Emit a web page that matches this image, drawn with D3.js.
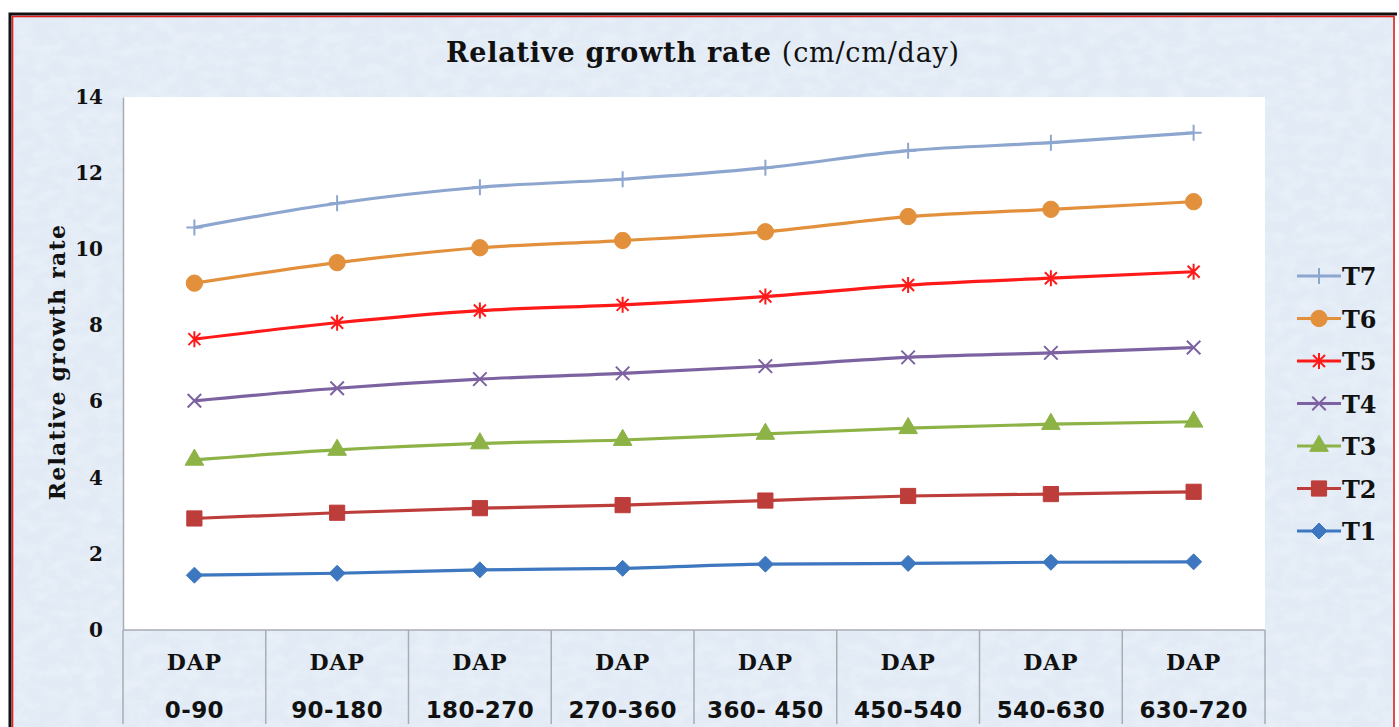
<!DOCTYPE html>
<html>
<head>
<meta charset="utf-8">
<script src="https://cdn.jsdelivr.net/npm/d3@7"></script>
<style>
    html, body { margin: 0; padding: 0; background: #ffffff; }
    #vis { width: 1399px; height: 727px; overflow: hidden; }
</style>
</head>
<body>
<div id="vis"></div>
<script>
// data
var periods = ['0-90', '90-180', '180-270', '270-360', '360- 450', '450-540', '540-630', '630-720'];
var seriesNames = ['T7', 'T6', 'T5', 'T4', 'T3', 'T2', 'T1'];
var t7 = [10.57, 11.21, 11.63, 11.84, 12.14, 12.59, 12.80, 13.06];
var t6 = [9.11, 9.65, 10.04, 10.23, 10.46, 10.86, 11.05, 11.25];
var t5 = [7.64, 8.07, 8.39, 8.54, 8.76, 9.06, 9.24, 9.41];
var t4 = [6.02, 6.35, 6.59, 6.74, 6.93, 7.16, 7.28, 7.42];
var t3 = [4.47, 4.73, 4.90, 4.99, 5.15, 5.30, 5.41, 5.47];
var t2 = [2.93, 3.08, 3.20, 3.28, 3.40, 3.52, 3.57, 3.63];
var t1 = [1.44, 1.49, 1.58, 1.62, 1.73, 1.75, 1.78, 1.79];
var yTicks = [0, 2, 4, 6, 8, 10, 12, 14];

class GrowthChart
{
    constructor(width, height)
    {
        // constants
        this.width = width;
        this.height = height;
        this.plot = { left: 123, top: 97, right: 1265, bottom: 630 };
        this.boxBottom = 724;
        this.serif = '"DejaVu Serif", "Liberation Serif", serif';
        this.sans = '"DejaVu Sans", Verdana, sans-serif';
        this.colors = {
            T7: '#8da6cf', T6: '#e2903b', T5: '#ff1a1a', T4: '#7d62a2',
            T3: '#8db246', T2: '#bd3d3a', T1: '#3d77c0'
        };
        this.values = { T7: t7, T6: t6, T5: t5, T4: t4, T3: t3, T2: t2, T1: t1 };

        this.svg = d3.select('#vis')
            .append('svg')
                .attr('width', this.width)
                .attr('height', this.height);

        this.xScale = d3.scaleBand()
            .domain(periods)
            .range([this.plot.left, this.plot.right])
            .padding(0);
        this.yScale = d3.scaleLinear()
            .domain([0, 14])
            .range([this.plot.bottom, this.plot.top]);
    }

    // custom marker shapes for d3.symbol
    strokeSymbol(kind, r)
    {
        return {
            draw: function(ctx) {
                if(kind == 'plus' || kind == 'star')
                {
                    ctx.moveTo(0, -r); ctx.lineTo(0, r);
                }
                if(kind == 'plus')
                {
                    ctx.moveTo(-r, 0); ctx.lineTo(r, 0);
                }
                if(kind == 'times' || kind == 'star')
                {
                    var k = r * 0.75;
                    ctx.moveTo(-k, -k); ctx.lineTo(k, k);
                    ctx.moveTo(-k, k); ctx.lineTo(k, -k);
                }
            }
        };
    }

    diamondSymbol(r)
    {
        return {
            draw: function(ctx) {
                ctx.moveTo(0, -r);
                ctx.lineTo(r, 0);
                ctx.lineTo(0, r);
                ctx.lineTo(-r, 0);
                ctx.closePath();
            }
        };
    }

    markerPath(name)
    {
        switch(name)
        {
            case 'T7': return d3.symbol().type(this.strokeSymbol('plus', 8))();
            case 'T6': return d3.symbol().type(d3.symbolCircle).size(210)();
            case 'T5': return d3.symbol().type(this.strokeSymbol('star', 8))();
            case 'T4': return d3.symbol().type(this.strokeSymbol('times', 9))();
            case 'T3': return d3.symbol().type(d3.symbolTriangle).size(150)();
            case 'T2': return d3.symbol().type(d3.symbolSquare).size(230)();
            default: return d3.symbol().type(this.diamondSymbol(8))();
        }
    }

    isStroked(name)
    {
        return name == 'T7' || name == 'T5' || name == 'T4';
    }

    drawFrame()
    {
        var defs = this.svg.append('defs');
        var f = defs.append('filter').attr('id', 'paper')
            .attr('x', 0).attr('y', 0).attr('width', '100%').attr('height', '100%');
        f.append('feTurbulence')
            .attr('type', 'fractalNoise')
            .attr('baseFrequency', '0.06 0.09')
            .attr('numOctaves', 4)
            .attr('seed', 7);
        f.append('feColorMatrix')
            .attr('type', 'matrix')
            .attr('values', '0 0 0 0 1  0 0 0 0 1  0 0 0 0 1  0 0 0 -1.4 0.95');

        this.svg.append('rect')
            .attr('x', 11).attr('y', 15)
            .attr('width', 1384).attr('height', 720)
            .attr('fill', '#e1eaf5');
        this.svg.append('rect')
            .attr('x', 11).attr('y', 15)
            .attr('width', 1384).attr('height', 720)
            .attr('filter', 'url(#paper)')
            .attr('opacity', 0.35);

        // outer border: black then red
        this.svg.append('path')
            .attr('d', 'M10,740 V14 H1397')
            .attr('fill', 'none')
            .attr('stroke', '#111')
            .attr('stroke-width', 3);
        this.svg.append('rect')
            .attr('x', 12.5).attr('y', 16.5)
            .attr('width', 1381.5).attr('height', 730)
            .attr('fill', 'none')
            .attr('stroke', '#e0201c')
            .attr('stroke-width', 1.6);

        // plot area
        this.svg.append('rect')
            .attr('x', this.plot.left).attr('y', this.plot.top)
            .attr('width', this.plot.right - this.plot.left)
            .attr('height', this.plot.bottom - this.plot.top)
            .attr('fill', '#ffffff');
    }

    drawAxes()
    {
        var that = this;
        var grey = '#a9adb3';

        // y axis
        var yAxis = d3.axisLeft(this.yScale)
            .tickValues(yTicks)
            .tickSize(0)
            .tickPadding(20);
        var gy = this.svg.append('g')
            .attr('transform', 'translate(' + this.plot.left + ',0)')
            .call(yAxis);
        gy.select('.domain').attr('stroke', grey).attr('stroke-width', 1.5);
        gy.selectAll('text')
            .attr('font-family', this.serif)
            .attr('font-weight', 'bold')
            .attr('font-size', 20)
            .attr('fill', '#111');

        // category table under the plot
        var gx = this.svg.append('g');
        gx.append('line')
            .attr('x1', this.plot.left).attr('x2', this.plot.right)
            .attr('y1', this.plot.bottom).attr('y2', this.plot.bottom)
            .attr('stroke', grey).attr('stroke-width', 1.5);
        var edges = periods.map(function(p) { return that.xScale(p); });
        edges.push(this.plot.right);
        gx.selectAll('.sep')
            .data(edges)
            .enter().append('line')
            .attr('class', 'sep')
            .attr('x1', function(d) { return d; })
            .attr('x2', function(d) { return d; })
            .attr('y1', this.plot.bottom)
            .attr('y2', this.boxBottom)
            .attr('stroke', grey).attr('stroke-width', 1.5);

        var cx = function(d) { return that.xScale(d) + that.xScale.bandwidth() / 2; };
        gx.selectAll('.dap')
            .data(periods)
            .enter().append('text')
            .attr('class', 'dap')
            .attr('x', cx)
            .attr('y', 670)
            .attr('text-anchor', 'middle')
            .attr('font-family', this.serif)
            .attr('font-weight', 'bold')
            .attr('font-size', 22)
            .attr('letter-spacing', 0.8)
            .attr('fill', '#111')
            .text('DAP');
        gx.selectAll('.range')
            .data(periods)
            .enter().append('text')
            .attr('class', 'range')
            .attr('x', cx)
            .attr('y', 718)
            .attr('text-anchor', 'middle')
            .attr('font-family', this.sans)
            .attr('font-weight', 'bold')
            .attr('font-size', 23)
            .attr('letter-spacing', 0.4)
            .attr('fill', '#111')
            .text(function(d) { return d; });

        // y axis title
        this.svg.append('text')
            .attr('transform', 'translate(65,' + 362 + ') rotate(-90)')
            .attr('text-anchor', 'middle')
            .attr('font-family', this.serif)
            .attr('font-weight', 'bold')
            .attr('font-size', 22)
            .attr('letter-spacing', 1.2)
            .attr('fill', '#111')
            .text('Relative growth rate');

        // chart title
        var title = this.svg.append('text')
            .attr('x', 703)
            .attr('y', 62)
            .attr('text-anchor', 'middle')
            .attr('font-family', this.serif)
            .attr('font-size', 27)
            .attr('letter-spacing', 0.8)
            .attr('fill', '#111');
        title.append('tspan').attr('font-weight', 'bold').text('Relative growth rate ');
        title.append('tspan').text('(cm/cm/day)');
    }

    drawSeries()
    {
        var that = this;
        var cx = function(i) { return that.xScale(periods[i]) + that.xScale.bandwidth() / 2; };
        var line = d3.line()
            .x(function(d, i) { return cx(i); })
            .y(function(d) { return that.yScale(d); })
            .curve(d3.curveMonotoneX);

        // draw bottom series first so upper ones sit on top
        var order = seriesNames.slice().reverse();
        order.forEach(function(name)
        {
            var color = that.colors[name];
            var vals = that.values[name];
            var g = that.svg.append('g').attr('class', 'series-' + name);
            g.append('path')
                .attr('d', line(vals))
                .attr('fill', 'none')
                .attr('stroke', color)
                .attr('stroke-width', 3.2)
                .attr('stroke-linejoin', 'round');
            g.selectAll('.mk')
                .data(vals)
                .enter().append('path')
                .attr('class', 'mk')
                .attr('transform', function(d, i) { return 'translate(' + cx(i) + ',' + that.yScale(d) + ')'; })
                .attr('d', that.markerPath(name))
                .attr('fill', that.isStroked(name) ? 'none' : color)
                .attr('stroke', color)
                .attr('stroke-width', that.isStroked(name) ? 2 : 1);
        });
    }

    drawLegend()
    {
        var that = this;
        var legend = this.svg.append('g').attr('class', 'legend');
        var rowY = d3.scalePoint()
            .domain(seriesNames)
            .range([276, 531]);

        var rows = legend.selectAll('.row')
            .data(seriesNames)
            .enter().append('g')
            .attr('class', 'row')
            .attr('transform', function(d) { return 'translate(0,' + rowY(d) + ')'; });
        rows.append('line')
            .attr('x1', 1297).attr('x2', 1341)
            .attr('stroke', function(d) { return that.colors[d]; })
            .attr('stroke-width', 3.2);
        rows.append('path')
            .attr('transform', 'translate(1319,0)')
            .attr('d', function(d) { return that.markerPath(d); })
            .attr('fill', function(d) { return that.isStroked(d) ? 'none' : that.colors[d]; })
            .attr('stroke', function(d) { return that.colors[d]; })
            .attr('stroke-width', function(d) { return that.isStroked(d) ? 2 : 1; });
        rows.append('text')
            .attr('x', 1342)
            .attr('y', 9)
            .attr('font-family', this.serif)
            .attr('font-weight', 'bold')
            .attr('font-size', 24)
            .attr('fill', '#111')
            .text(function(d) { return d; });
    }

    Run()
    {
        this.drawFrame();
        this.drawAxes();
        this.drawSeries();
        this.drawLegend();
    }
}

window.onload = function()
{
    var chart = new GrowthChart(1399, 727);
    chart.Run();
}
</script>
</body>
</html>
